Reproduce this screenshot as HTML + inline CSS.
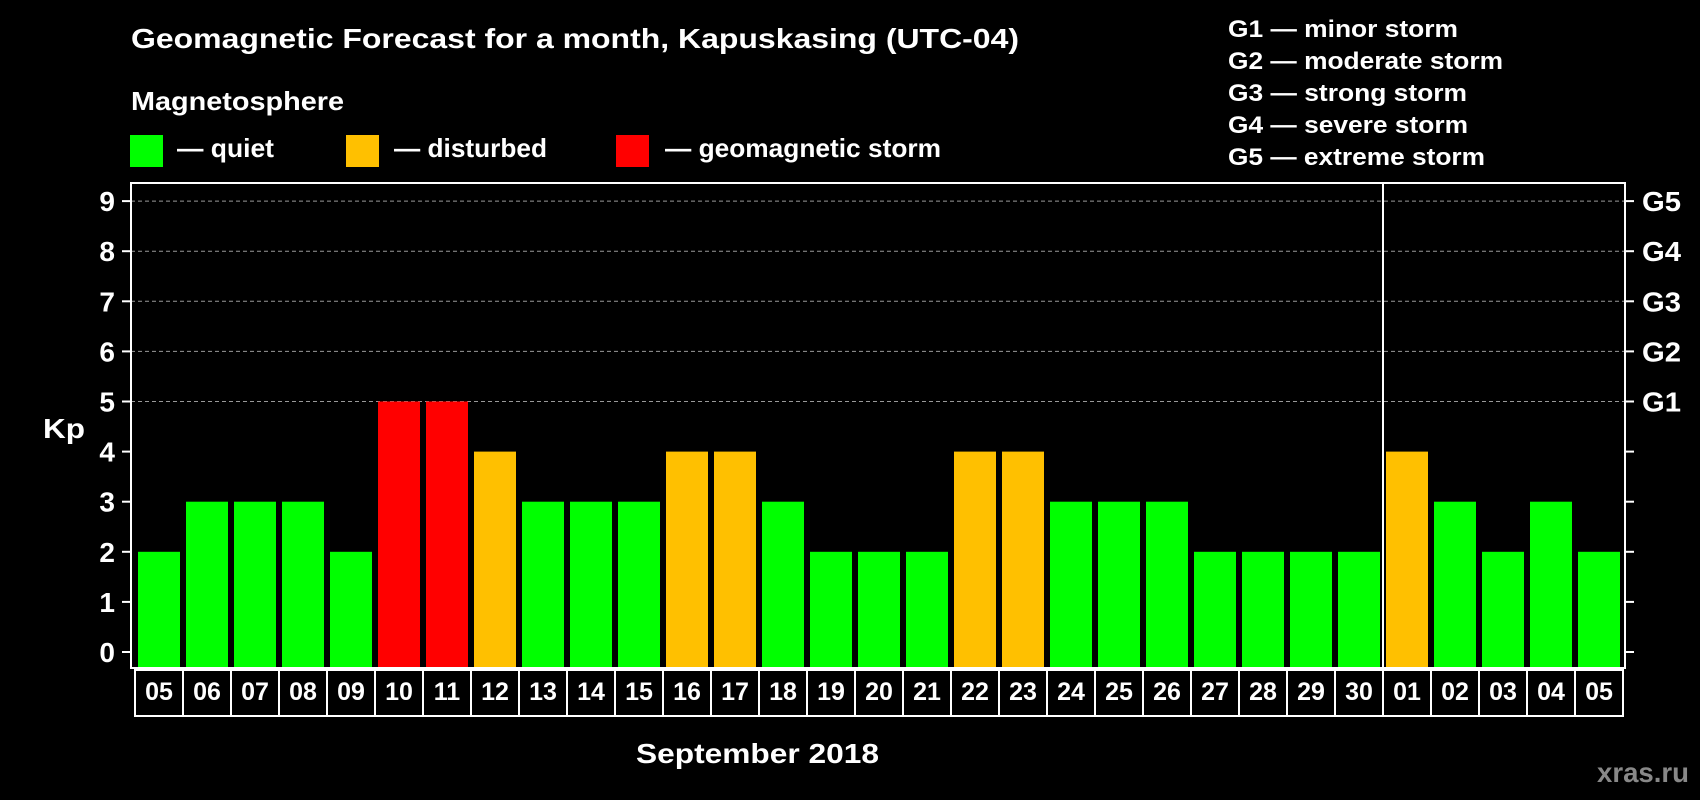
<!DOCTYPE html>
<html><head><meta charset="utf-8"><style>
html,body{margin:0;padding:0;background:#000;}
svg{display:block;font-family:"Liberation Sans",Arial,sans-serif;font-weight:bold;}
</style></head><body>
<svg id="chart" width="1700" height="800" viewBox="0 0 1700 800" xmlns="http://www.w3.org/2000/svg">
<rect width="1700" height="800" fill="#000"/>
<text x="131" y="48" fill="#fff" font-size="28" textLength="888" lengthAdjust="spacingAndGlyphs">Geomagnetic Forecast for a month, Kapuskasing (UTC-04)</text>
<text x="131" y="110" fill="#fff" font-size="26" textLength="213" lengthAdjust="spacingAndGlyphs">Magnetosphere</text>
<g>
<rect x="130" y="135" width="33" height="32" fill="#00ff00"/>
<text x="177" y="157" fill="#fff" font-size="26" textLength="97" lengthAdjust="spacingAndGlyphs">— quiet</text></g>
<g>
<rect x="346" y="135" width="33" height="32" fill="#ffc000"/>
<text x="394" y="157" fill="#fff" font-size="26" textLength="153" lengthAdjust="spacingAndGlyphs">— disturbed</text></g>
<g>
<rect x="616" y="135" width="33" height="32" fill="#ff0000"/>
<text x="665" y="157" fill="#fff" font-size="26" textLength="276" lengthAdjust="spacingAndGlyphs">— geomagnetic storm</text></g>
<g fill="#fff" font-size="24" lengthAdjust="spacingAndGlyphs">
<text x="1228" y="37" textLength="230" lengthAdjust="spacingAndGlyphs">G1 — minor storm</text>
<text x="1228" y="69" textLength="275" lengthAdjust="spacingAndGlyphs">G2 — moderate storm</text>
<text x="1228" y="101" textLength="239" lengthAdjust="spacingAndGlyphs">G3 — strong storm</text>
<text x="1228" y="133" textLength="240" lengthAdjust="spacingAndGlyphs">G4 — severe storm</text>
<text x="1228" y="165" textLength="257" lengthAdjust="spacingAndGlyphs">G5 — extreme storm</text>
</g>
<text x="43" y="438" fill="#fff" font-size="28" textLength="42" lengthAdjust="spacingAndGlyphs">Kp</text>
<text x="636" y="763" fill="#fff" font-size="28" textLength="243" lengthAdjust="spacingAndGlyphs">September 2018</text>
<text x="1597" y="782" fill="#888" font-size="28" textLength="92" lengthAdjust="spacingAndGlyphs">xras.ru</text>
<g id="grid"></g><g id="bars"></g><g id="axes"></g><g id="labels"></g>
</svg>
<script>
const days = ["05","06","07","08","09","10","11","12","13","14","15","16","17","18","19","20","21","22","23","24","25","26","27","28","29","30","01","02","03","04","05"];
const kpValues = [2,3,3,3,2,5,5,4,3,3,3,4,4,3,2,2,2,4,4,3,3,3,2,2,2,2,4,3,2,3,2];
const yTicks = [0,1,2,3,4,5,6,7,8,9];
const gLabels = ["G1","G2","G3","G4","G5"];
const monthBreakIndex = 26;

const NS="http://www.w3.org/2000/svg";
const L=131,R=1625,T=183,B=668;
const y=v=>652-v*50.1;
const x=i=>138+i*48;
const BW=42;
function mk(tag,attrs,parent){const e=document.createElementNS(NS,tag);for(const k in attrs)e.setAttribute(k,attrs[k]);parent.appendChild(e);return e;}
const grid=document.getElementById('grid'),bars=document.getElementById('bars'),axes=document.getElementById('axes'),labels=document.getElementById('labels');
yTicks.forEach(v=>{
  if(v>=5){const g=mk('line',{x1:L,x2:R,y1:y(v),y2:y(v),stroke:'#999','stroke-width':1,'stroke-dasharray':'4,3'},grid);
  
  }
  const t=mk('line',{x1:L-9,x2:L,y1:y(v),y2:y(v),stroke:'#fff','stroke-width':2},axes);
  
  
  const t2=mk('line',{x1:R,x2:R+9,y1:y(v),y2:y(v),stroke:'#fff','stroke-width':2},axes);
  
  
  const lb=mk('text',{x:115,y:y(v)+10,fill:'#fff','font-size':28,'text-anchor':'end'},labels);
  lb.textContent=v;
  
  
  if(v>=5){const gl=mk('text',{x:1642,y:y(v)+10,fill:'#fff','font-size':28,textLength:39,lengthAdjust:'spacingAndGlyphs'},labels);
  gl.textContent=gLabels[v-5];
  
  }
});
kpValues.forEach((v,i)=>{
  const col=v>=5?'#ff0000':(v>=4?'#ffc000':'#00ff00');
  const r=mk('rect',{x:x(i),y:y(v),width:BW,height:B-1-y(v),fill:col},bars);
  
  
});
const fr=mk('rect',{x:L,y:T,width:R-L,height:B-T,fill:'none',stroke:'#fff','stroke-width':2},axes);


const dv=mk('line',{x1:x(monthBreakIndex)-3,x2:x(monthBreakIndex)-3,y1:T,y2:B,stroke:'#fff','stroke-width':2},axes);


const box=mk('rect',{x:135,y:670,width:1488,height:46,fill:'none',stroke:'#fff','stroke-width':2},axes);


days.forEach((d,i)=>{
  if(i>0){const l=mk('line',{x1:135+i*48,x2:135+i*48,y1:670,y2:716,stroke:'#fff','stroke-width':2},axes);
  
  }
  const t=mk('text',{x:x(i)+BW/2,y:700,fill:'#fff','font-size':25,'text-anchor':'middle'},labels);
  t.textContent=d;
  
  
});
</script>
</body></html>
